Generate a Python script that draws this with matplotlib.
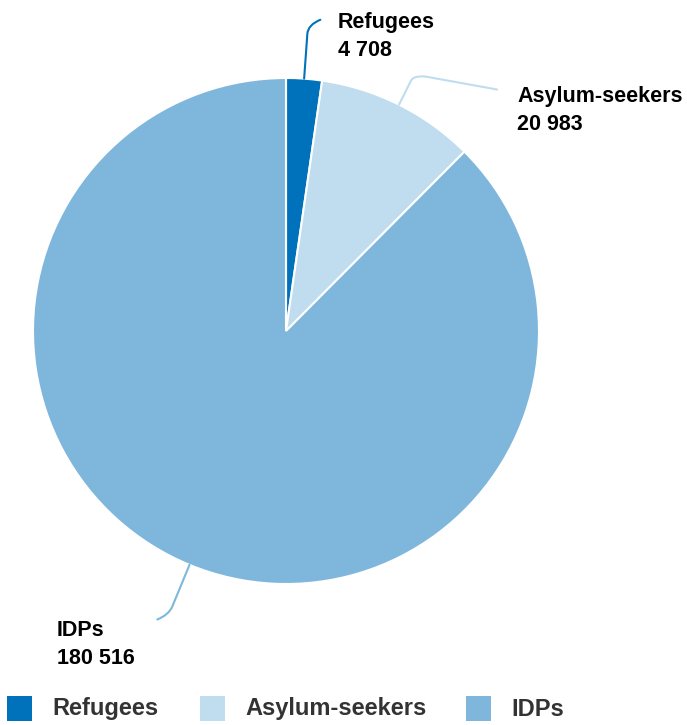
import numpy as np
import matplotlib.pyplot as plt
from matplotlib.path import Path
from matplotlib.patches import PathPatch, Rectangle

# data
categories = ["Refugees", "Asylum-seekers", "IDPs"]
values = [4708, 20983, 180516]
value_labels = ["4 708", "20 983", "180 516"]
colors = ["#0072BC", "#BFDDEE", "#7FB7DC"]

W, H = 687, 725
plt.rcParams["font.family"] = ["Liberation Sans", "DejaVu Sans"]

fig = plt.figure(figsize=(W / 100, H / 100), dpi=100)
ax = fig.add_axes([0, 0, 1, 1])

cx, cy, r = 286, H - 331, 253
wedges, _ = ax.pie(values, colors=colors, startangle=90, counterclock=False,
                   center=(cx, cy), radius=r, frame=True,
                   wedgeprops=dict(edgecolor="white", linewidth=1.5))
ax.set_xlim(0, W)
ax.set_ylim(0, H)
ax.set_aspect("equal")
ax.axis("off")

# leader lines: start on the wedge edge, go outward, then bend toward the label
# (elbow radius, curve end dx, dy, tail dx, dy) in pixels
leaders = [
    (298, 13, 14, 0, 0),
    (280, 14, 4, 72, -13),
    (298, -15, -13, 0, 0),
]
label_pos = [(338, 22), (517, 96), (57, 631)]

for w, col, (r2, ex, ey, tx, ty), (lx, ly), name, val in zip(
        wedges, colors, leaders, label_pos, categories, value_labels):
    ang = np.deg2rad((w.theta1 + w.theta2) / 2)
    p0 = (cx + r * np.cos(ang), cy + r * np.sin(ang))
    p1 = (cx + r2 * np.cos(ang), cy + r2 * np.sin(ang))
    ctrl = (p1[0] + 0.2 * (p1[0] - p0[0]), p1[1] + 0.2 * (p1[1] - p0[1]))
    p2 = (p1[0] + ex, p1[1] + ey)
    verts = [p0, p1, ctrl, p2]
    codes = [Path.MOVETO, Path.LINETO, Path.CURVE3, Path.CURVE3]
    if tx:
        verts.append((p2[0] + tx, p2[1] + ty))
        codes.append(Path.LINETO)
    ax.add_patch(PathPatch(Path(verts, codes), facecolor="none", edgecolor=col,
                           linewidth=1.5, capstyle="round"))
    ax.text(lx, H - ly, name, fontsize=15.5, fontweight="bold", color="black",
            ha="left", va="center")
    ax.text(lx, H - ly - 28, val, fontsize=15.5, fontweight="bold", color="black",
            ha="left", va="center")

# legend drawn by hand: squares with bold grey labels
leg_x = [7, 200, 466]
for x, col, name in zip(leg_x, colors, categories):
    ax.add_patch(Rectangle((x, H - 721), 25, 25, facecolor=col, edgecolor="none"))
    ax.text(x + 45, H - 709, name, fontsize=17, fontweight="bold",
            color="#333333", ha="left", va="center")

fig.savefig("out.png", dpi=100)
